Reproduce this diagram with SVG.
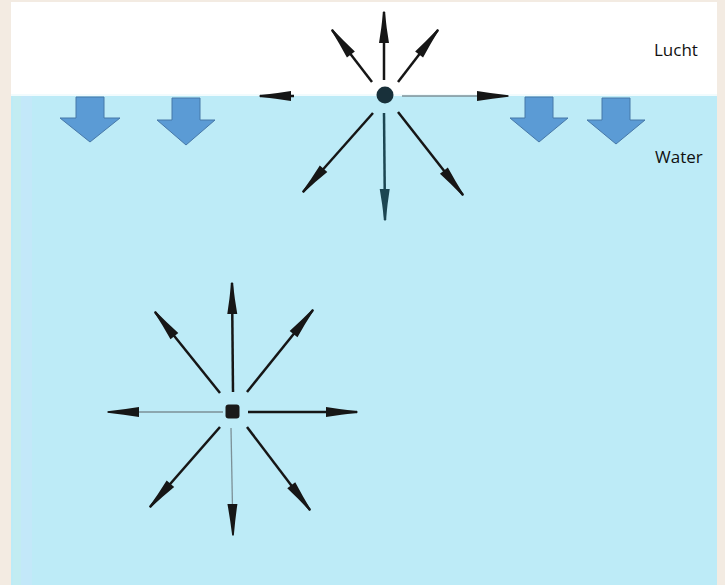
<svg xmlns="http://www.w3.org/2000/svg" width="725" height="585" viewBox="0 0 725 585">
<style>
.sh{stroke:#161616;stroke-width:2.5;fill:none;marker-end:url(#hd)}
.thin{stroke:#7c9097;stroke-width:1.3;fill:none;marker-end:url(#hd)}
.teal{stroke:#1c4652;stroke-width:2.5;fill:none;marker-end:url(#ht)}
.blk{fill:#5b9bd5;stroke:#4778a8;stroke-width:1}
.lbl{font-family:"Open Sans","Liberation Sans",sans-serif;font-size:17px;fill:#111111}
</style>
<defs>
<marker id="hd" viewBox="-32 -7 34 14" refX="0" refY="0" markerWidth="34" markerHeight="14" markerUnits="userSpaceOnUse" orient="auto">
<path d="M0.5,-0.8 Q-16,-2.5 -31,-5 L-31,5 Q-16,2.5 0.5,0.8 Z" fill="#161616"/>
</marker>
<marker id="ht" viewBox="-32 -7 34 14" refX="0" refY="0" markerWidth="34" markerHeight="14" markerUnits="userSpaceOnUse" orient="auto">
<path d="M0.5,-0.8 Q-16,-2.5 -31,-5 L-31,5 Q-16,2.5 0.5,0.8 Z" fill="#1c4652"/>
</marker>
</defs>
<rect width="725" height="585" fill="#f3ebe2"/>
<rect x="11" y="2" width="706" height="94" fill="#ffffff"/>
<rect x="11" y="96" width="706" height="489" fill="#bdebf7"/>
<rect x="13" y="96" width="8" height="489" fill="#c2ecf2"/>
<rect x="21" y="96" width="11" height="489" fill="#c3e8f9"/>
<rect x="11" y="94" width="706" height="2" fill="#f1fbfd"/>
<g id="air-label"><text class="lbl" x="654" y="56">Lucht</text></g>
<g id="water-label"><text class="lbl" x="655" y="163">Water</text></g>
<g id="down-arrows">
<polygon class="blk" points="76,97 104,97 104,118 120,118 90,142 60,118 76,118"/>
<polygon class="blk" points="172,98 200,98 200,120 215,120 186,145 157,120 172,120"/>
<polygon class="blk" points="525,97 553,97 553,118 568,118 539,142 510,118 525,118"/>
<polygon class="blk" points="602,98 630,98 630,120 645,120 616,144 587,120 602,120"/>
</g>
<g id="connectors">
<line class="sh" x1="384" y1="80" x2="384" y2="12"/>
<line class="sh" x1="372" y1="82" x2="332" y2="30"/>
<line class="sh" x1="398" y1="82" x2="438" y2="30"/>
<line class="sh" x1="294" y1="96" x2="260" y2="96"/>
<line class="thin" x1="402" y1="96" x2="508" y2="96"/>
<line class="sh" x1="373" y1="113" x2="303" y2="192"/>
<line class="teal" x1="384" y1="113" x2="385" y2="220"/>
<line class="sh" x1="398" y1="112" x2="463" y2="195"/>
<line class="sh" x1="233" y1="392" x2="232" y2="283"/>
<line class="sh" x1="220" y1="393" x2="155" y2="312"/>
<line class="sh" x1="247" y1="392" x2="313" y2="310"/>
<line class="thin" x1="223" y1="412" x2="108" y2="412"/>
<line class="sh" x1="248" y1="412" x2="357" y2="412"/>
<line class="sh" x1="220" y1="427" x2="150" y2="507"/>
<line class="thin" x1="231" y1="428" x2="233" y2="535"/>
<line class="sh" x1="247" y1="427" x2="310" y2="510"/>
</g>
<g id="surface-molecule"><circle cx="385" cy="95" r="8.5" fill="#18303a"/></g>
<g id="bulk-molecule"><rect x="225.5" y="404.5" width="14" height="14" rx="3" fill="#1a1a1a"/></g>
</svg>
